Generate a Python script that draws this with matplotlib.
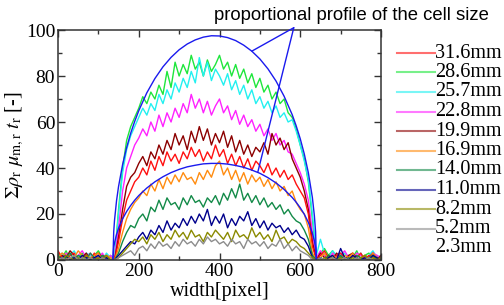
import matplotlib
matplotlib.use("Agg")
import matplotlib.pyplot as plt
import numpy as np
from matplotlib.lines import Line2D

plt.rcParams["font.family"] = ["Liberation Serif", "DejaVu Serif"]
plt.rcParams["mathtext.fontset"] = "stix"

# pixel position along the width, every 10 px
width_px = np.arange(0, 801, 10)

green = [3, 1, 4, 0, 2, 1, 3, 0, 1, 2,
         4, 1, 0, 2, 0, 22, 40, 52, 58, 62,
         66, 71, 68, 73, 70, 76, 72, 82, 75, 86,
         80, 85, 81, 89, 83, 86, 80, 87, 82, 85,
         89, 83, 86, 80, 85, 79, 83, 77, 81, 75,
         79, 73, 76, 70, 73, 68, 70, 64, 62, 57,
         50, 44, 34, 18, 1, 3, 5, 2, 4, 1,
         3, 0, 2, 1, 4, 0, 2, 3, 1, 2,
         0]
cyan = [1, 3, 0, 2, 4, 1, 0, 3, 2, 0,
        2, 0, 3, 1, 0, 20, 38, 48, 54, 58,
        62, 66, 63, 68, 65, 72, 68, 74, 70, 77,
        73, 79, 75, 82, 77, 88, 80, 86, 78, 83,
        80, 76, 81, 74, 78, 72, 76, 70, 74, 68,
        71, 66, 69, 64, 67, 62, 64, 60, 61, 56,
        50, 43, 35, 20, 2, 9, 3, 1, 4, 2,
        1, 3, 0, 2, 1, 3, 0, 2, 4, 1,
        2]
magenta = [2, 0, 3, 1, 0, 2, 4, 1, 3, 0,
           1, 3, 0, 2, 0, 14, 30, 40, 45, 50,
           53, 57, 54, 60, 56, 63, 58, 64, 60, 66,
           62, 68, 64, 72, 66, 70, 64, 69, 63, 67,
           70, 64, 67, 61, 65, 59, 63, 58, 61, 56,
           59, 54, 57, 52, 55, 50, 52, 47, 46, 42,
           38, 33, 26, 12, 1, 4, 2, 0, 3, 1,
           2, 4, 1, 0, 3, 2, 0, 1, 3, 2,
           1]
darkred = [0, 2, 1, 4, 2, 0, 1, 3, 0, 2,
           3, 1, 2, 0, 0, 10, 22, 32, 36, 38,
           42, 45, 41, 47, 44, 50, 46, 52, 48, 55,
           50, 54, 48, 56, 51, 58, 52, 57, 50, 55,
           51, 56, 49, 54, 47, 52, 46, 50, 45, 49,
           47, 51, 46, 55, 50, 53, 48, 51, 44, 40,
           36, 30, 22, 8, 0, 3, 1, 2, 0, 3,
           1, 0, 2, 3, 1, 0, 2, 1, 3, 0,
           2]
red = [4, 1, 0, 2, 3, 0, 1, 2, 0, 3,
       0, 2, 1, 0, 0, 8, 18, 26, 30, 34,
       36, 40, 37, 43, 39, 45, 41, 47, 43, 46,
       42, 47, 44, 49, 45, 48, 43, 47, 44, 50,
       45, 48, 42, 46, 41, 45, 40, 44, 39, 43,
       41, 38, 42, 37, 40, 36, 39, 35, 37, 33,
       30, 27, 20, 6, 0, 2, 4, 1, 0, 2,
       3, 1, 0, 2, 1, 3, 0, 2, 1, 0,
       1]
orange = [1, 3, 2, 0, 1, 4, 2, 0, 1, 2,
          3, 0, 2, 1, 0, 5, 12, 18, 22, 25,
          27, 30, 28, 33, 30, 35, 31, 36, 33, 37,
          34, 38, 35, 36, 33, 38, 35, 39, 36, 41,
          43, 37, 40, 35, 39, 34, 38, 33, 37, 34,
          36, 32, 35, 31, 34, 30, 32, 28, 30, 25,
          22, 20, 14, 3, 0, 1, 3, 0, 2, 1,
          0, 2, 1, 3, 0, 1, 2, 0, 3, 1,
          0]
seagreen = [2, 0, 1, 3, 0, 2, 1, 0, 3, 1,
            0, 2, 1, 0, 0, 3, 8, 12, 15, 14,
            18, 20, 17, 23, 21, 26, 22, 27, 24, 25,
            22, 27, 24, 28, 25, 26, 23, 27, 25, 28,
            24, 29, 26, 31, 27, 33, 26, 29, 25, 28,
            24, 27, 23, 25, 22, 24, 20, 22, 19, 17,
            16, 13, 9, 2, 0, 1, 0, 2, 1, 0,
            2, 0, 1, 0, 2, 1, 0, 1, 2, 0,
            1]
navy = [0, 1, 2, 0, 1, 0, 2, 1, 0, 1,
        2, 0, 1, 0, 0, 2, 4, 6, 8, 7,
        10, 12, 9, 13, 11, 15, 12, 17, 13, 16,
        14, 18, 15, 19, 16, 20, 17, 22, 15, 19,
        16, 20, 14, 18, 15, 19, 17, 21, 15, 18,
        14, 17, 13, 16, 14, 15, 12, 14, 11, 13,
        10, 9, 6, 1, 0, 1, 0, 1, 2, 0,
        5, 1, 0, 2, 1, 0, 1, 0, 2, 1,
        0]
olive = [1, 0, 2, 1, 0, 1, 0, 2, 1, 0,
         1, 0, 2, 0, 0, 1, 3, 5, 7, 9,
         8, 10, 7, 11, 9, 12, 8, 11, 9, 13,
         10, 12, 9, 13, 10, 11, 8, 12, 10, 13,
         11, 9, 12, 8, 13, 10, 11, 9, 14, 10,
         12, 9, 11, 8, 13, 9, 10, 7, 9, 8,
         6, 5, 3, 1, 0, 0, 1, 0, 1, 0,
         1, 0, 0, 1, 0, 1, 2, 0, 1, 0,
         1]
gray = [0, 1, 0, 1, 2, 0, 1, 0, 1, 0,
        0, 1, 0, 0, 0, 1, 2, 3, 4, 2,
        5, 6, 4, 7, 5, 8, 6, 7, 5, 8,
        6, 9, 7, 8, 6, 9, 7, 10, 8, 9,
        7, 8, 6, 9, 7, 8, 5, 9, 7, 8,
        6, 8, 5, 7, 6, 9, 5, 7, 4, 6,
        4, 3, 2, 0, 0, 1, 0, 0, 1, 0,
        0, 1, 0, 0, 1, 0, 0, 1, 0, 0,
        0]

# proportional profile of the cell size (outer and inner)
profile_x = [136, 138, 140, 145, 150, 160, 170, 180, 190, 200, 220, 240, 260,
             280, 300, 320, 340, 360, 380, 400, 420, 440, 460, 480, 500, 520,
             540, 560, 580, 590, 600, 610, 620, 630, 635, 638, 640]
profile_outer = [0, 12.3, 17.3, 25.8, 32.0, 41.5, 48.9, 55.1, 60.3, 64.9, 72.7,
                 78.9, 84.0, 88.1, 91.4, 93.9, 95.7, 96.9, 97.5, 97.4, 96.7,
                 95.4, 93.4, 90.8, 87.4, 83.1, 77.8, 71.2, 63.2, 58.3, 52.7,
                 46.1, 38.0, 27.2, 19.2, 12.3, 0]
profile_inner = [0, 5.3, 7.5, 11.1, 13.8, 17.9, 21.1, 23.7, 26.0, 28.0, 31.3,
                 34.0, 36.2, 38.0, 39.4, 40.5, 41.2, 41.8, 42.0, 42.0, 41.7,
                 41.1, 40.3, 39.1, 37.7, 35.8, 33.5, 30.7, 27.2, 25.1, 22.7,
                 19.9, 16.4, 11.7, 8.3, 5.3, 0]

series = [
    (green, "#1ee63c"), (cyan, "#22f0f0"), (magenta, "#ff22ff"),
    (darkred, "#8c0000"), (red, "#ff1010"), (orange, "#ff8c10"),
    (seagreen, "#138a48"), (navy, "#00008c"), (olive, "#8a8a00"),
    (gray, "#8c8c8c"),
]

legend_labels = ["31.6mm", "28.6mm", "25.7mm", "22.8mm", "19.9mm", "16.9mm",
                 "14.0mm", "11.0mm", "8.2mm", "5.2mm", "2.3mm"]
legend_colors = ["#ff1010", "#1ee63c", "#22f0f0", "#ff22ff", "#8c0000",
                 "#ff8c10", "#138a48", "#00008c", "#8a8a00", "#8c8c8c", None]

fig = plt.figure(figsize=(5.04, 3.05), dpi=100)
ax = fig.add_axes([58 / 504, 45 / 305, 323 / 504, 230 / 305])

for vals, color in series:
    ax.plot(width_px, vals, color=color, lw=1.0)

ax.plot(profile_x, profile_outer, color="#1a1aee", lw=1.0)
ax.plot(profile_x, profile_inner, color="#1a1aee", lw=1.0)

# pointer lines from the annotation to the two profiles
ax.annotate("", xy=(480, 90.8), xytext=(584, 101),
            arrowprops=dict(arrowstyle="-", color="#1a1aee", lw=1.0,
                            shrinkA=0, shrinkB=0), annotation_clip=False)
ax.annotate("", xy=(495, 38.3), xytext=(584, 101),
            arrowprops=dict(arrowstyle="-", color="#1a1aee", lw=1.0,
                            shrinkA=0, shrinkB=0), annotation_clip=False)
ax.text(727, 106.2, "proportional profile of the cell size",
        family="Liberation Sans", fontsize=13.3, ha="center", va="center",
        clip_on=False)

ax.set_xlim(0, 800)
ax.set_ylim(0, 100)
ax.set_xticks([0, 200, 400, 600, 800])
ax.set_xticks([100, 300, 500, 700], minor=True)
ax.set_yticks([0, 20, 40, 60, 80, 100])
ax.set_yticks([10, 30, 50, 70, 90], minor=True)
ax.tick_params(which="both", direction="in", top=True, right=True,
               labelsize=14, colors="#333333", labelcolor="black")
ax.tick_params(which="major", length=5, width=1, pad=2)
ax.tick_params(which="minor", length=3, width=1)
for sp in ax.spines.values():
    sp.set_color("#333333")
    sp.set_linewidth(1.1)

ax.set_xlabel("width[pixel]", fontsize=14.5)
ax.set_ylabel(r"$\Sigma\rho_{\rm r}\ \mu_{\rm m,r}\ t_{\rm r}$ [-]",
              fontsize=14.5)
ax.xaxis.set_label_coords(0.5, -0.095)
ax.yaxis.set_label_coords(-0.1, 0.5)

# legend drawn outside the axes on the right
for i, (lab, col) in enumerate(zip(legend_labels, legend_colors)):
    y = 1 - (53 + i * 19.5) / 305
    if col is not None:
        fig.add_artist(Line2D([397 / 504, 435 / 504], [y, y], color=col,
                              lw=1.5, alpha=0.6))
    fig.text(435 / 504, y, lab, fontsize=14.5, ha="left", va="center")

fig.savefig("out.png", dpi=100)
